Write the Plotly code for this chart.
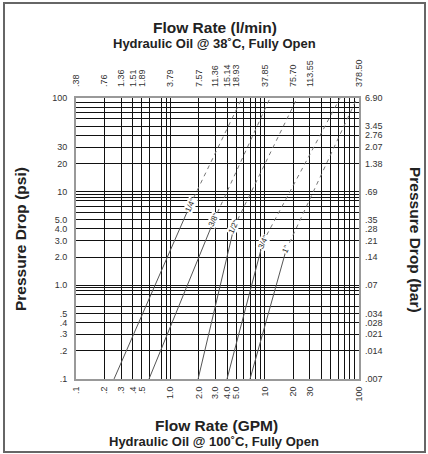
import numpy as np
import plotly.graph_objects as go

# grid lines (GPM / psi), tick labels
x_grid = [0.1, 0.2, 0.3, 0.4, 0.5, 0.6, 0.8, 0.9, 1, 2, 3, 4, 5, 6, 7, 8, 9, 10,
          20, 30, 40, 50, 60, 70, 80, 90, 100]
y_grid = [0.1, 0.2, 0.3, 0.4, 0.5, 0.6, 0.8, 0.87, 0.94, 1, 2, 3, 4, 5, 6, 7, 8, 8.7, 9.4, 10,
          20, 30, 40, 50, 60, 70, 80, 90, 100]

gpm_vals = [0.1, 0.2, 0.3, 0.4, 0.5, 1, 2, 3, 4, 5, 10, 20, 30, 100]
gpm_text = [".1", ".2", ".3", ".4", ".5", "1.0", "2.0", "3.0", "4.0", "5.0", "10", "20", "30", "100"]
lpm_text = [".38", ".76", "1.36", "1.51", "1.89", "3.79", "7.57", "11.36", "15.14", "18.93",
            "37.85", "75.70", "113.55", "378.50"]

psi_vals = [0.1, 0.2, 0.3, 0.4, 0.5, 1, 2, 3, 4, 5, 10, 20, 30, 100]
psi_text = [".1", ".2", ".3", ".4", ".5", "1.0", "2.0", "3.0", "4.0", "5.0", "10", "20", "30", "100"]
bar_vals = [0.1, 0.2, 0.3, 0.4, 0.5, 1, 2, 3, 4, 5, 10, 20, 30, 40, 50, 100]
bar_text = [".007", ".014", ".021", ".028", ".034", ".07", ".14", ".21", ".28", ".35", ".69",
            "1.38", "2.07", "2.76", "3.45", "6.90"]

# valve sizes: flow (GPM) / pressure drop (psi) at start, at the label (solid -> dashed), top
sizes = ['1/4"', '3/8"', '1/2"', '3/4"', '1"']
flow_start = [0.253, 0.594, 1.97, 3.99, 7.0]
psi_start = [0.1, 0.1, 0.1, 0.1, 0.1]
flow_break = [1.62, 2.91, 4.74, 9.6, 16.9]
psi_break = [7.2, 5.0, 4.2, 2.9, 2.39]
flow_end = [5.75, 11.4, 22.1, 63.0, 95.5]
psi_end = [100, 100, 100, 100, 100]

fig = go.Figure()
for i in range(len(sizes)):
    fig.add_trace(go.Scatter(x=[flow_start[i], flow_break[i]], y=[psi_start[i], psi_break[i]],
                             mode="lines", line=dict(color="#555", width=1), showlegend=False))
    fig.add_trace(go.Scatter(x=[flow_break[i], flow_end[i]], y=[psi_break[i], psi_end[i]],
                             mode="lines", line=dict(color="#777", width=1, dash="4px,4px"),
                             showlegend=False))
    fig.add_annotation(x=np.log10(flow_break[i]), y=np.log10(psi_break[i]), text=sizes[i],
                       textangle=-65, showarrow=False, bgcolor="white",
                       xanchor="center", yanchor="middle",
                       font=dict(size=8, color="#222"), borderpad=0)

# dummy trace for the secondary axes
fig.add_trace(go.Scatter(x=[1], y=[1], xaxis="x2", yaxis="y2", mode="markers",
                         marker=dict(opacity=0), showlegend=False, hoverinfo="skip"))

tick_font = dict(family="Liberation Sans, Arial, sans-serif", size=9, color="#333")
x_text = [gpm_text[gpm_vals.index(v)] if v in gpm_vals else "" for v in x_grid]
y_text = [psi_text[psi_vals.index(v)] if v in psi_vals else "" for v in y_grid]

rng = [-1.0005, 2.0005]
axis_common = dict(type="log", range=rng, showline=True, linecolor="#999", linewidth=2,
                   mirror=True, ticks="", zeroline=False, tickfont=tick_font, automargin=False)

fig.update_layout(
    width=428, height=454,
    margin=dict(l=76, r=69, t=98, b=75),
    paper_bgcolor="white", plot_bgcolor="white",
    font=dict(family="Liberation Sans, Arial, sans-serif", color="#222"),
    xaxis=dict(**axis_common, tickvals=x_grid, ticktext=x_text, tickangle=-90,
               showgrid=True, gridcolor="#111", gridwidth=1.2, ticklabelstandoff=2),
    yaxis=dict(**axis_common, tickvals=y_grid, ticktext=y_text, ticklabelstandoff=5,
               showgrid=True, gridcolor="#111", gridwidth=1.2),
    xaxis2=dict(type="log", range=rng, overlaying="x", side="top", anchor="y",
                tickvals=gpm_vals, ticktext=lpm_text, tickangle=-90, showgrid=False,
                ticks="", tickfont=tick_font, zeroline=False, automargin=False,
                ticklabelstandoff=10),
    yaxis2=dict(type="log", range=rng, overlaying="y", side="right", anchor="x",
                tickvals=bar_vals, ticktext=bar_text, showgrid=False, ticklabelstandoff=5,
                ticks="", tickfont=tick_font, zeroline=False, automargin=False),
)

# text titles in paper coordinates (plot area: x 76..359 px, y 98..379 px)
def px(x):
    return (x - 76) / 283.0

def py(y):
    return (379 - y) / 281.0

title_font = dict(family="Liberation Sans, Arial, sans-serif", color="#222")
titles = [
    (215, 27, "<b>Flow Rate (l/min)</b>", 15.5, 0),
    (214, 43, "<b>Hydraulic Oil @ 38˚C, Fully Open</b>", 13, 0),
    (216, 425, "<b>Flow Rate (GPM)</b>", 15.5, 0),
    (214, 441, "<b>Hydraulic Oil @ 100˚C, Fully Open</b>", 13, 0),
    (20, 239, "<b>Pressure Drop (psi)</b>", 15.5, -90),
    (415, 240, "<b>Pressure Drop (bar)</b>", 15.5, 90),
]
for tx, ty, text, size, angle in titles:
    fig.add_annotation(x=px(tx), y=py(ty), xref="paper", yref="paper", showarrow=False,
                       xanchor="center", yanchor="middle", text=text, textangle=angle,
                       font=dict(size=size, **title_font))

# outer frame
fig.add_shape(type="rect", xref="paper", yref="paper", x0=px(4), x1=px(425), y0=py(452), y1=py(3),
              line=dict(color="#666", width=2), layer="above")

fig.write_html("out.html", config={"displayModeBar": False},
               post_script="document.body.style.margin='0';")
